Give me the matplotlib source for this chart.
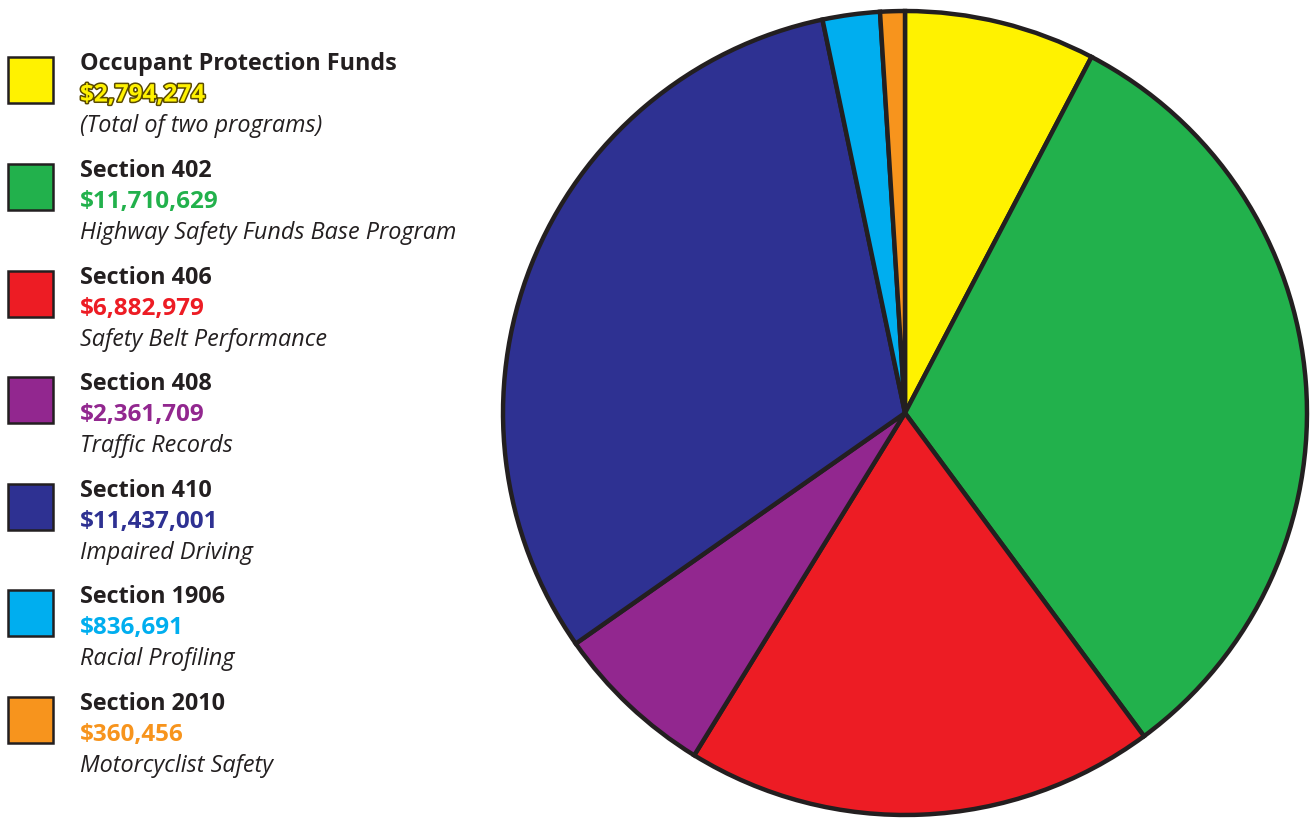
import matplotlib.pyplot as plt
import matplotlib.patheffects as pe
from matplotlib.patches import Rectangle

titles = ["Occupant Protection Funds", "Section 402", "Section 406", "Section 408",
          "Section 410", "Section 1906", "Section 2010"]
amounts = [2794274, 11710629, 6882979, 2361709, 11437001, 836691, 360456]
notes = ["(Total of two programs)", "Highway Safety Funds Base Program",
         "Safety Belt Performance", "Traffic Records", "Impaired Driving",
         "Racial Profiling", "Motorcyclist Safety"]
colors = ["#FFF200", "#22B14C", "#ED1C24", "#92278F", "#2E3192", "#00AEEF", "#F7941D"]
edge = "#231F20"

W, H = 1312, 822
fig = plt.figure(figsize=(W / 100, H / 100), dpi=100)
plt.rcParams['font.family'] = ['Open Sans', 'DejaVu Sans']

# pie
cx, cy, r = 905, 413, 406
ax = fig.add_axes([(cx - r) / W, (H - cy - r) / H, 2 * r / W, 2 * r / H])
ax.pie(amounts, colors=colors, startangle=90, counterclock=False, radius=1,
       wedgeprops=dict(edgecolor=edge, linewidth=3.2, joinstyle='miter'))
ax.set_xlim(-1.01, 1.01)
ax.set_ylim(-1.01, 1.01)
ax.set_aspect('equal')
ax.axis('off')

# legend
lax = fig.add_axes([0, 0, 1, 1])
lax.set_xlim(0, W)
lax.set_ylim(H, 0)
lax.axis('off')

y0 = 64.5
step = 106.5
for i in range(len(titles)):
    y = y0 + i * step
    lax.add_patch(Rectangle((8, y - 7), 45, 46, facecolor=colors[i], edgecolor=edge, linewidth=1.8))
    lax.text(80, y, titles[i], fontsize=16.8, fontweight='bold', color='#231F20', va='center')
    t = lax.text(80, y + 31, "${:,}".format(amounts[i]), fontsize=17.5, fontweight='bold',
                 color=colors[i], va='center')
    if i == 0:
        t.set_path_effects([pe.Stroke(linewidth=2.2, foreground='#5a4a00'), pe.Normal()])
    lax.text(80, y + 62, notes[i], fontsize=16.8, fontstyle='italic', color='#231F20', va='center')

fig.savefig("out.png", dpi=100)
